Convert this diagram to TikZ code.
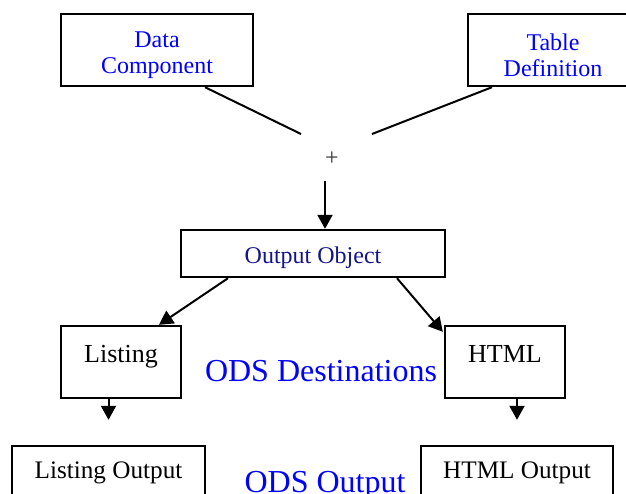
\documentclass[tikz,border=0pt]{standalone}
\usepackage{fontspec}
\setmainfont{Liberation Serif}
\usetikzlibrary{calc,arrows.meta}
\definecolor{navyobj}{RGB}{20,20,140}

\begin{document}
\begin{tikzpicture}[x=0.5pt,y=-0.5pt,
    box/.style={draw,line width=1.2pt,inner sep=0pt,align=center},
    srcbox/.style={box,text=blue,minimum height=36pt,font=\fontsize{12}{13}\selectfont,text height=26.2pt},
    destbox/.style={box,minimum width=60pt,minimum height=36pt,font=\fontsize{13}{15}\selectfont,text height=9pt,text depth=9pt},
    outbox/.style={box,minimum width=96pt,minimum height=27pt,font=\fontsize{12.6}{15}\selectfont},
    arr/.style={-{Triangle[length=7pt,width=7.5pt]},line width=1pt},
    lnk/.style={line width=1pt}]
    \useasboundingbox(0,0)rectangle(626,493);
    \clip(0,0)rectangle(626,493);
    % sources
    \node[srcbox,minimum width=96pt](data)at(157,50){Data\\Component};
    \node[srcbox,minimum width=85pt](tab)at(553,50){Table\\Definition};
    \node[text=black!80,font=\fontsize{12}{14}\selectfont](plus)at(332,159){+};
    \coordinate(dataend)at(301,134);
    \coordinate(tabend)at(372,134);
    \draw[lnk]($(data.south)+(48,0)$)--(dataend);
    \draw[lnk]($(tab.south)+(-61,0)$)--(tabend);
    % output object
    \node[box,text=navyobj,minimum width=132pt,minimum height=23.5pt,font=\fontsize{12}{14}\selectfont,text height=12.4pt,text depth=2.6pt](output)at(313,253.5){Output Object};
    \coordinate(join)at(325,181);
    \draw[arr](join)--(join|-output.north);
    % destinations
    \node[destbox](listing)at(121,362){Listing};
    \node[destbox](html)at(505,362){HTML};
    \node[text=blue,anchor=base,font=\fontsize{16}{19}\selectfont](dest)at(321,381){ODS Destinations};
    \draw[arr]($(output.south)+(-85,0)$)--($(listing.north)+(38,0)$);
    \draw[arr]($(output.south)+(84,0)$)--($(html.north west)+(-1,7)$);
    % output
    \node[outbox,minimum width=96.5pt](listout)at(108.5,473){Listing Output};
    \node[outbox](htmlout)at(517,473){HTML Output};
    \node[text=blue,anchor=base,font=\fontsize{16}{19}\selectfont](odsout)at(325,492){ODS Output};
    \draw[arr,shorten >=12.5pt](listing.south-|listout)--(listout.north);
    \draw[arr,shorten >=12.5pt](html.south-|htmlout)--(htmlout.north);
\end{tikzpicture}
\end{document}
